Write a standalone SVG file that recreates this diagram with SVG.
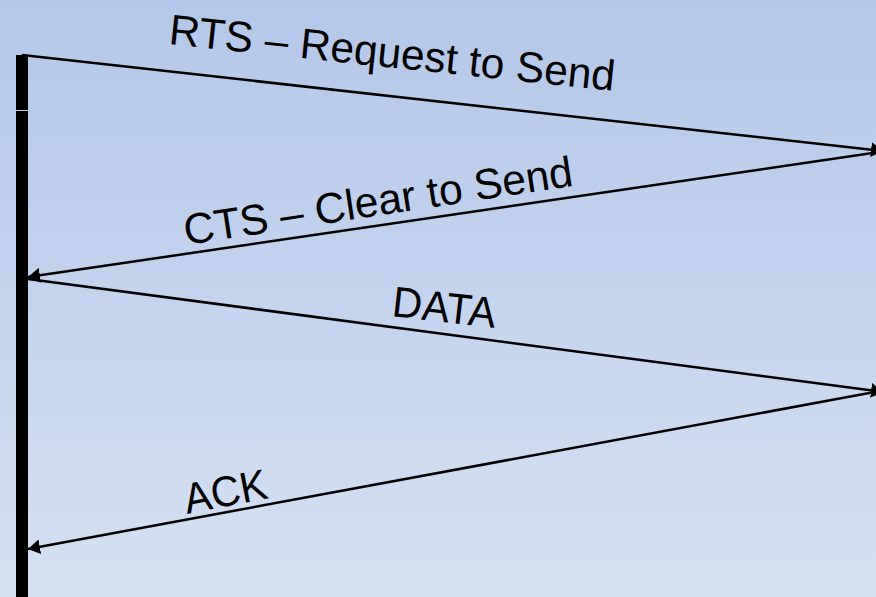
<svg xmlns="http://www.w3.org/2000/svg" width="876" height="597" viewBox="0 0 876 597">
<defs>
<linearGradient id="bg" x1="0" y1="0" x2="0" y2="1">
<stop offset="0" stop-color="#b3c7ea"/>
<stop offset="1" stop-color="#d5e0f2"/>
</linearGradient>
<marker id="ah" viewBox="0 0 12 15" refX="12" refY="7.5" markerWidth="12" markerHeight="15" markerUnits="userSpaceOnUse" orient="auto">
<path d="M0,0 L12,7.5 L0,15 Z" fill="#000"/>
</marker>
</defs>
<style>
.msg{stroke:#000;stroke-width:2.5;fill:none;marker-end:url(#ah)}
.lbl{font-family:"Liberation Sans",Arial,sans-serif;font-size:43px;fill:#000}
</style>
<rect x="0" y="0" width="876" height="597" fill="url(#bg)"/>
<g id="lifeline">
<rect x="16" y="55" width="12" height="55" fill="#000"/>
<rect x="16" y="111" width="12" height="486" fill="#000"/>
</g>
<g id="connectors">
<line class="msg" x1="22" y1="55" x2="883" y2="151"/>
<line class="msg" x1="880" y1="152" x2="28" y2="277"/>
<line class="msg" x1="28" y1="279" x2="883" y2="392"/>
<line class="msg" x1="880" y1="391" x2="28" y2="549"/>
</g>
<g id="label-rts"><text class="lbl" transform="translate(168,44) rotate(6)" textLength="448" lengthAdjust="spacingAndGlyphs">RTS – Request to Send</text></g>
<g id="label-cts"><text class="lbl" transform="translate(186,245) rotate(-8.7)" textLength="393" lengthAdjust="spacingAndGlyphs">CTS – Clear to Send</text></g>
<g id="label-data"><text class="lbl" transform="translate(391,316) rotate(6.5)" textLength="104" lengthAdjust="spacingAndGlyphs">DATA</text></g>
<g id="label-ack"><text class="lbl" transform="translate(187,514) rotate(-11)" textLength="84" lengthAdjust="spacingAndGlyphs">ACK</text></g>
</svg>
